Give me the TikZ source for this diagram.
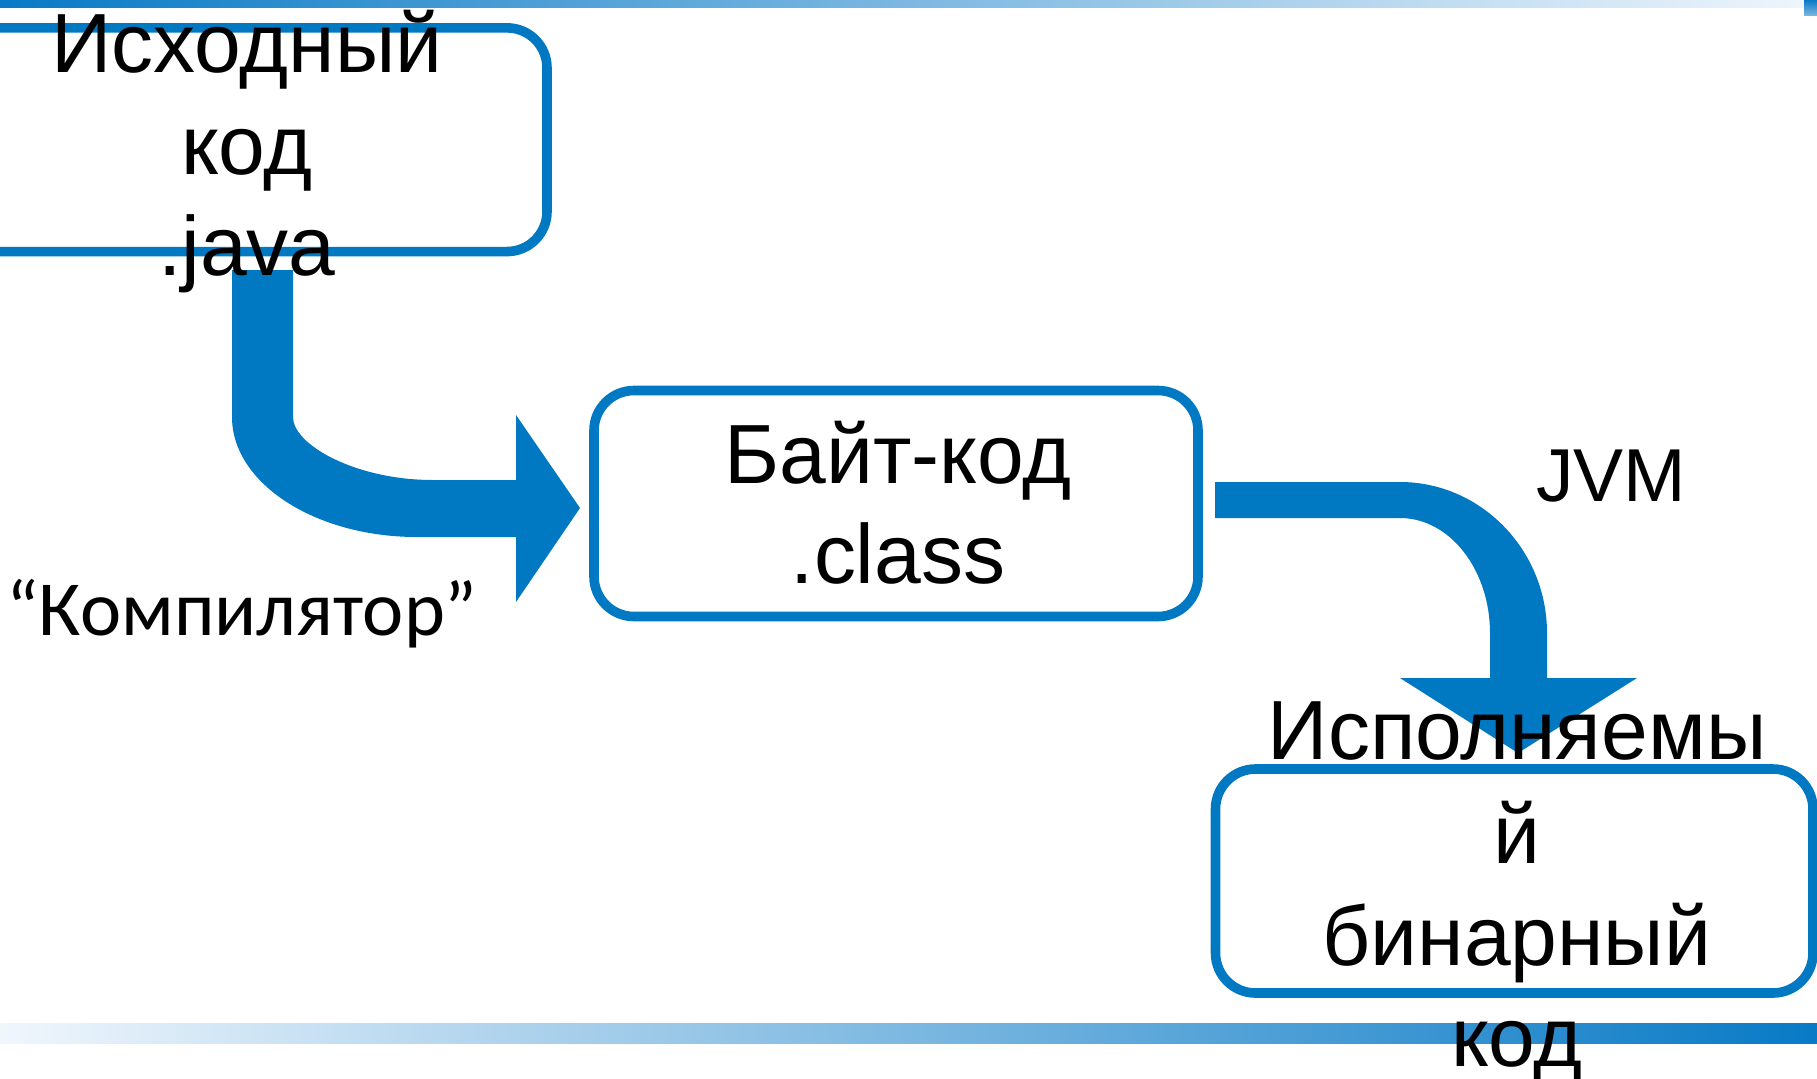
\documentclass[tikz,border=0pt]{standalone}
\usepackage{fontspec}
\setmainfont{Liberation Sans}
\newfontfamily\labelfont{Carlito}
\definecolor{jblue}{RGB}{0,120,194}
\definecolor{barblue}{RGB}{8,122,198}
\definecolor{barpale}{RGB}{240,246,252}

\begin{document}
\begin{tikzpicture}[x=0.5pt,y=-0.5pt,
  stage/.style={draw=jblue, line width=4.8pt, rounded corners=20pt, inner sep=0pt},
  flow/.style={fill=jblue, draw=none},
  boxtext/.style={font=\fontsize{42}{50}\selectfont, anchor=base, inner sep=0pt},
  tag/.style={font=\fontsize{37.5}{44}\selectfont, anchor=base, inner sep=0pt}
]
\useasboundingbox (0,0) rectangle (1817,1078);
\clip (0,0) rectangle (1817,1078);

% decorative bars
\shade[left color=barblue, right color=barpale] (0,0) rectangle (1817,7);
\shade[top color=barblue, bottom color=barblue!55] (1804,0) rectangle (1817,15);
\shade[left color=barpale, right color=barblue] (0,1023) rectangle (1817,1043);

% stages
\node[stage, minimum width=303.5pt, minimum height=111.85pt] (src) at (243.5,139.7) {};
\node[stage, minimum width=302pt, minimum height=113pt] (byte) at (896,503.5) {};
\node[stage, minimum width=298.75pt, minimum height=112pt] (bin) at (1514.25,881) {};

% compiler arrow
\fill[flow] (232,270) -- (232,417)
  .. controls (232,483) and (315,537) .. (417,537)
  -- (516,537) -- (516,602) -- (580,508) -- (516,415) -- (516,480) -- (433,480)
  .. controls (356,480) and (293,445) .. (293,417)
  -- (293,270) -- cycle;

% JVM arrow
\fill[flow] (1215,482) -- (1400,482)
  .. controls (1481,482) and (1547,550) .. (1547,633)
  -- (1547,678) -- (1637,678) -- (1518,753) -- (1400,678) -- (1490,678) -- (1490,633)
  .. controls (1490,570) and (1450,518) .. (1400,518)
  -- (1215,518) -- cycle;

% stage texts
\node[boxtext] (src1) at (247,72) {Исходный};
\node[boxtext] (src2) at (247,174) {код};
\node[boxtext] (src3) at (247,275) {.java};

\node[boxtext] (byte1) at (898,483) {Байт-код};
\node[boxtext] (byte2) at (898,583) {.class};

\node[boxtext] (bin1) at (1517,759) {Исполняемы};
\node[boxtext] (bin2) at (1517,863) {й};
\node[boxtext] (bin3) at (1517,965) {бинарный};
\node[boxtext] (bin4) at (1517,1066) {код};

% arrow labels
\node[tag] (jvm) at (1611,501) {JVM};
\node[tag, font=\labelfont\fontsize{39}{46}\selectfont] (comp) at (242,635) {“Компилятор”};
\end{tikzpicture}
\end{document}
